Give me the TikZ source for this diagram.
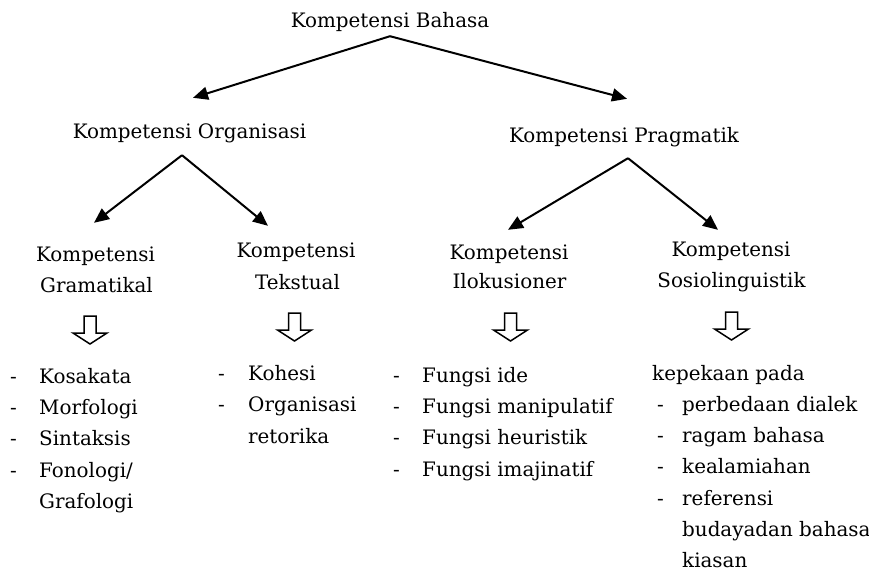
\documentclass[tikz,border=0pt]{standalone}
\usepackage{fontspec}
\setmainfont{DejaVu Serif}
\usetikzlibrary{arrows.meta}
\begin{document}
\begin{tikzpicture}[x=1pt,y=-1pt,
  lbl/.style={inner sep=0pt, text height=14pt, text depth=4pt, font=\fontsize{19.9}{23}\selectfont},
  hd/.style={lbl, anchor=base},
  itm/.style={lbl, anchor=base west},
  conn/.style={line width=2pt, -{Triangle[length=15pt,width=13pt]}},
  bigdown/.pic={\draw[line width=1.5pt, line join=miter] (-6,0) -- (-6,17) -- (-17,17) -- (0,28) -- (17,17) -- (6,17) -- (6,0) -- cycle;}
]
\useasboundingbox (0,0) rectangle (869,571);

% headings
\node[hd] (kb) at (390,27) {Kompetensi Bahasa};
\node[hd] (ko) at (189.5,138) {Kompetensi Organisasi};
\node[hd] (kp) at (624,142) {Kompetensi Pragmatik};
\node[hd] (g1) at (95.5,261) {Kompetensi};
\node[hd] (g2) at (96.5,292) {Gramatikal};
\node[hd] (t1) at (296,257) {Kompetensi};
\node[hd] (t2) at (297.5,289) {Tekstual};
\node[hd] (i1) at (509,259) {Kompetensi};
\node[hd] (i2) at (509.5,288) {Ilokusioner};
\node[hd] (s1) at (731,256) {Kompetensi};
\node[hd] (s2) at (731.5,287) {Sosiolinguistik};

% connectors
\draw[conn] ([yshift=-5pt]kb.south) -- ([xshift=3.5pt,yshift=26pt]ko.north);
\draw[conn] ([yshift=-5pt]kb.south) -- ([xshift=3pt,yshift=29pt]kp.north);
\draw[conn] ([xshift=-7.5pt,yshift=-13pt]ko.south) -- ([xshift=-1.5pt,yshift=24pt]g1.north);
\draw[conn] ([xshift=-7.5pt,yshift=-13pt]ko.south) -- ([xshift=-28pt,yshift=17pt]t1.north);
\draw[conn] ([xshift=4pt,yshift=-12pt]kp.south) -- ([xshift=-1pt,yshift=15pt]i1.north);
\draw[conn] ([xshift=4pt,yshift=-12pt]kp.south) -- ([xshift=-13pt,yshift=12pt]s1.north);

% hollow arrows
\pic at (90,316) {bigdown};
\pic at (294.5,313) {bigdown};
\pic at (510.5,313) {bigdown};
\pic at (731.5,312) {bigdown};

% list 1
\node[itm] (a1d) at (10,383) {-};
\node[itm] (a1) at (39,383) {Kosakata};
\node[itm] (a2d) at (10,414.3) {-};
\node[itm] (a2) at (39,414.3) {Morfologi};
\node[itm] (a3d) at (10,445.6) {-};
\node[itm] (a3) at (39,445.6) {Sintaksis};
\node[itm] (a4d) at (10,477) {-};
\node[itm] (a4) at (39,477) {Fonologi/};
\node[itm] (a5) at (39,508.3) {Grafologi};

% list 2
\node[itm] (b1d) at (218,380) {-};
\node[itm] (b1) at (248,380) {Kohesi};
\node[itm] (b2d) at (218,411.5) {-};
\node[itm] (b2) at (248,411.5) {Organisasi};
\node[itm] (b3) at (248,443) {retorika};

% list 3
\node[itm] (c1d) at (393,382) {-};
\node[itm] (c1) at (422,382) {Fungsi ide};
\node[itm] (c2d) at (393,413.3) {-};
\node[itm] (c2) at (422,413.3) {Fungsi manipulatif};
\node[itm] (c3d) at (393,444.6) {-};
\node[itm] (c3) at (422,444.6) {Fungsi heuristik};
\node[itm] (c4d) at (393,476) {-};
\node[itm] (c4) at (422,476) {Fungsi imajinatif};

% list 4
\node[itm] (d0) at (652,380) {kepekaan pada};
\node[itm] (d1d) at (657,411.3) {-};
\node[itm] (d1) at (682,411.3) {perbedaan dialek};
\node[itm] (d2d) at (657,442.6) {-};
\node[itm] (d2) at (682,442.6) {ragam bahasa};
\node[itm] (d3d) at (657,473.9) {-};
\node[itm] (d3) at (682,473.9) {kealamiahan};
\node[itm] (d4d) at (657,505.2) {-};
\node[itm] (d4) at (682,505.2) {referensi};
\node[itm] (d5) at (682,536.5) {budayadan bahasa};
\node[itm, text depth=0pt] (d6) at (682,567) {kiasan};
\end{tikzpicture}
\end{document}
